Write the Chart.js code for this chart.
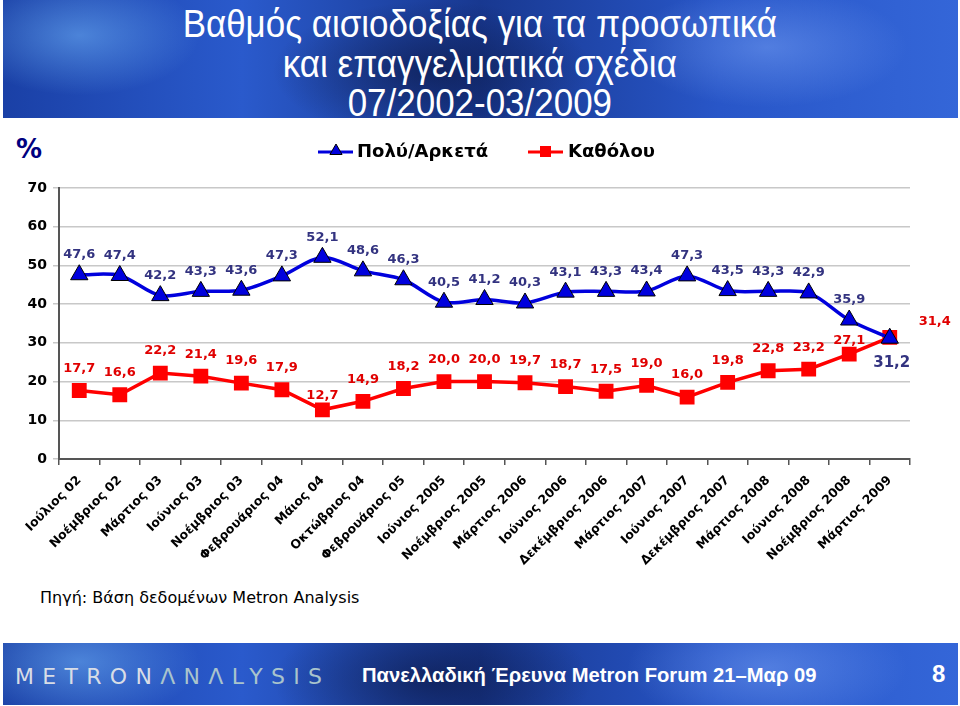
<!DOCTYPE html>
<html>
<head>
<meta charset="utf-8">
<script src="https://cdn.jsdelivr.net/npm/chart.js@4/dist/chart.umd.min.js"></script>
<style>
  body { margin: 0; width: 960px; height: 706px; background: #fff; position: relative; overflow: hidden; font-family: "DejaVu Sans", Verdana, sans-serif; }
  .banner {
    position: absolute; left: 3px; width: 955px;
    background:
      radial-gradient(ellipse 120px 60px at 8% 30%, rgba(120,190,255,0.5), transparent),
      radial-gradient(ellipse 160px 70px at 45% 60%, rgba(10,20,60,0.6), transparent),
      radial-gradient(ellipse 140px 60px at 80% 40%, rgba(140,180,255,0.4), transparent),
      linear-gradient(90deg, #1a40a6 0%, #2a5acc 25%, #183890 50%, #2856c8 75%, #3466d8 100%);
  }
  #top { top: 0; height: 118px; }
  #bottom { top: 643px; height: 62px; }
  #title {
    position: absolute; left: 0; top: 5px; width: 960px; text-align: center; color: #fff;
    font-family: "Liberation Sans", Arial, sans-serif; font-size: 38px; line-height: 39.5px;
    transform: scaleX(0.92); transform-origin: 478px 0;
  }
  #pct { position: absolute; left: 16px; top: 134px; font-size: 26px; font-weight: bold; color: #000080; }
  #source { position: absolute; left: 40px; top: 588px; font-size: 16px; color: #000; }
  #logo { position: absolute; left: 15px; top: 664px; font-family: "DejaVu Sans", sans-serif; font-size: 22px; letter-spacing: 8.3px; color: #d8dde6; }
  #logo span { color: #a9c4cc; }
  #foot { position: absolute; left: 362px; top: 664px; font-family: "Liberation Sans", Arial, sans-serif; font-weight: bold; font-size: 20.2px; color: #fff; }
  #page { position: absolute; left: 932px; top: 660px; font-family: "Liberation Sans", Arial, sans-serif; font-weight: bold; font-size: 24px; color: #fff; }
  canvas { position: absolute; left: 0; top: 0; }
</style>
</head>
<body>
<div class="banner" id="top"></div>
<div id="title">Βαθμός αισιοδοξίας για τα προσωπικά<br>και επαγγελματικά σχέδια<br>07/2002-03/2009</div>
<div id="pct">%</div>
<div id="source">Πηγή: Βάση δεδομένων Metron Analysis</div>
<div class="banner" id="bottom"></div>
<div id="logo">METRON<span>ΛNΛLYSIS</span></div>
<div id="foot">Πανελλαδική Έρευνα Metron Forum 21–Μαρ 09</div>
<div id="page">8</div>
<canvas id="myChart" width="960" height="706"></canvas>
<script>
const categories = [
    'Ιούλιος 02', 'Νοέμβριος 02', 'Μάρτιος 03', 'Ιούνιος 03', 'Νοέμβριος 03',
    'Φεβρουάριος 04', 'Μάιος 04', 'Οκτώβριος 04', 'Φεβρουάριος 05', 'Ιούνιος 2005',
    'Νοέμβριος 2005', 'Μάρτιος 2006', 'Ιούνιος 2006', 'Δεκέμβριος 2006', 'Μάρτιος 2007',
    'Ιούνιος 2007', 'Δεκέμβριος 2007', 'Μάρτιος 2008', 'Ιούνιος 2008', 'Νοέμβριος 2008',
    'Μάρτιος 2009'
];
const polyArketa = [47.6, 47.4, 42.2, 43.3, 43.6, 47.3, 52.1, 48.6, 46.3, 40.5, 41.2,
    40.3, 43.1, 43.3, 43.4, 47.3, 43.5, 43.3, 42.9, 35.9, 31.2];
const katholou = [17.7, 16.6, 22.2, 21.4, 19.6, 17.9, 12.7, 14.9, 18.2, 20.0, 20.0,
    19.7, 18.7, 17.5, 19.0, 16.0, 19.8, 22.8, 23.2, 27.1, 31.4];
const yTicks = [0, 10, 20, 30, 40, 50, 60, 70];

const BLUE = '#0000dd';
const RED = '#ff0000';

function drawTriangle(c, x, y, r) {
    c.beginPath();
    c.moveTo(x, y - r);
    c.lineTo(x + r * 0.866, y + r * 0.5);
    c.lineTo(x - r * 0.866, y + r * 0.5);
    c.closePath();
    c.fillStyle = BLUE;
    c.fill();
    c.strokeStyle = '#000';
    c.lineWidth = 1;
    c.stroke();
}

// value labels, Excel style (comma decimals)
const valueLabels = {
    id: 'valueLabels',
    afterDatasetsDraw(chart) {
        const c = chart.ctx;
        c.save();
        c.textAlign = 'center';
        c.textBaseline = 'middle';
        chart.data.datasets.forEach((ds, di) => {
            const meta = chart.getDatasetMeta(di);
            const last = ds.data.length - 1;
            meta.data.forEach((pt, i) => {
                let dx = 0, dy = -20, size = 13;
                if (di === 0 && i === last) { dx = 2; dy = 25; size = 15; }
                if (di === 1) {
                    dy = -22;
                    if (ds.data[i] < 13) dy = -14;
                    if (i === last - 1) dy = -13;
                    if (i === last) { dx = 45; dy = -16; }
                }
                c.font = 'bold ' + size + 'px "DejaVu Sans", Verdana, sans-serif';
                c.fillStyle = di === 0 ? '#333380' : '#e00000';
                c.fillText(ds.data[i].toFixed(1).replace('.', ','), pt.x + dx, pt.y + dy);
            });
        });
        c.restore();
    }
};

// legend drawn like the Excel one: line segment with marker
const excelLegend = {
    id: 'excelLegend',
    afterDraw(chart) {
        const c = chart.ctx;
        c.save();
        c.font = 'bold 18px "DejaVu Sans", Verdana, sans-serif';
        c.textBaseline = 'middle';
        c.lineWidth = 3;
        c.strokeStyle = BLUE;
        c.beginPath(); c.moveTo(318, 152); c.lineTo(353, 152); c.stroke();
        drawTriangle(c, 336, 151, 7);
        c.fillStyle = '#000';
        c.fillText(chart.data.datasets[0].label, 357, 152);
        c.lineWidth = 3;
        c.strokeStyle = RED;
        c.beginPath(); c.moveTo(528, 152); c.lineTo(563, 152); c.stroke();
        c.fillStyle = RED;
        c.fillRect(540, 146, 11, 11);
        c.fillStyle = '#000';
        c.fillText(chart.data.datasets[1].label, 568, 152);
        c.restore();
    }
};

const ctx = document.getElementById('myChart');

new Chart(ctx, {
    type: 'line',
    data: {
        labels: categories,
        datasets: [{
            label: 'Πολύ/Αρκετά',
            data: polyArketa,
            borderColor: BLUE,
            borderWidth: 3.5,
            tension: 0.3,
            pointStyle: 'triangle',
            pointRadius: 10,
            pointBackgroundColor: BLUE,
            pointBorderColor: '#000',
            pointBorderWidth: 1
        }, {
            label: 'Καθόλου',
            data: katholou,
            borderColor: RED,
            borderWidth: 3.5,
            tension: 0,
            pointStyle: 'rect',
            pointRadius: 10.5,
            pointBackgroundColor: RED,
            pointBorderColor: RED,
            pointBorderWidth: 0
        }]
    },
    options: {
        responsive: false,
        animation: false,
        layout: { padding: { top: 188, left: 0, right: 50, bottom: 100 } },
        plugins: {
            legend: { display: false },
            tooltip: { enabled: false }
        },
        scales: {
            x: {
                offset: true,
                afterFit(scale) { scale.height = 147; },
                grid: { offset: true, drawOnChartArea: false, color: '#555', tickLength: 6, lineWidth: 1.5 },
                border: { color: '#555', width: 2 },
                ticks: {
                    minRotation: 45, maxRotation: 45, autoSkip: false, padding: 8,
                    color: '#000',
                    font: { family: '"DejaVu Sans", Verdana, sans-serif', size: 12.5, weight: 'bold' }
                }
            },
            y: {
                min: 0,
                max: 70,
                afterFit(scale) { scale.width = 59; },
                afterBuildTicks(scale) { scale.ticks = yTicks.map(v => ({ value: v })); },
                grid: { color: '#c8c8c8', tickLength: 6, lineWidth: 1.5 },
                border: { color: '#555', width: 2 },
                ticks: {
                    padding: 6,
                    color: '#000',
                    font: { family: '"DejaVu Sans", Verdana, sans-serif', size: 14, weight: 'bold' }
                }
            }
        }
    },
    plugins: [valueLabels, excelLegend]
});
</script>
</body>
</html>
